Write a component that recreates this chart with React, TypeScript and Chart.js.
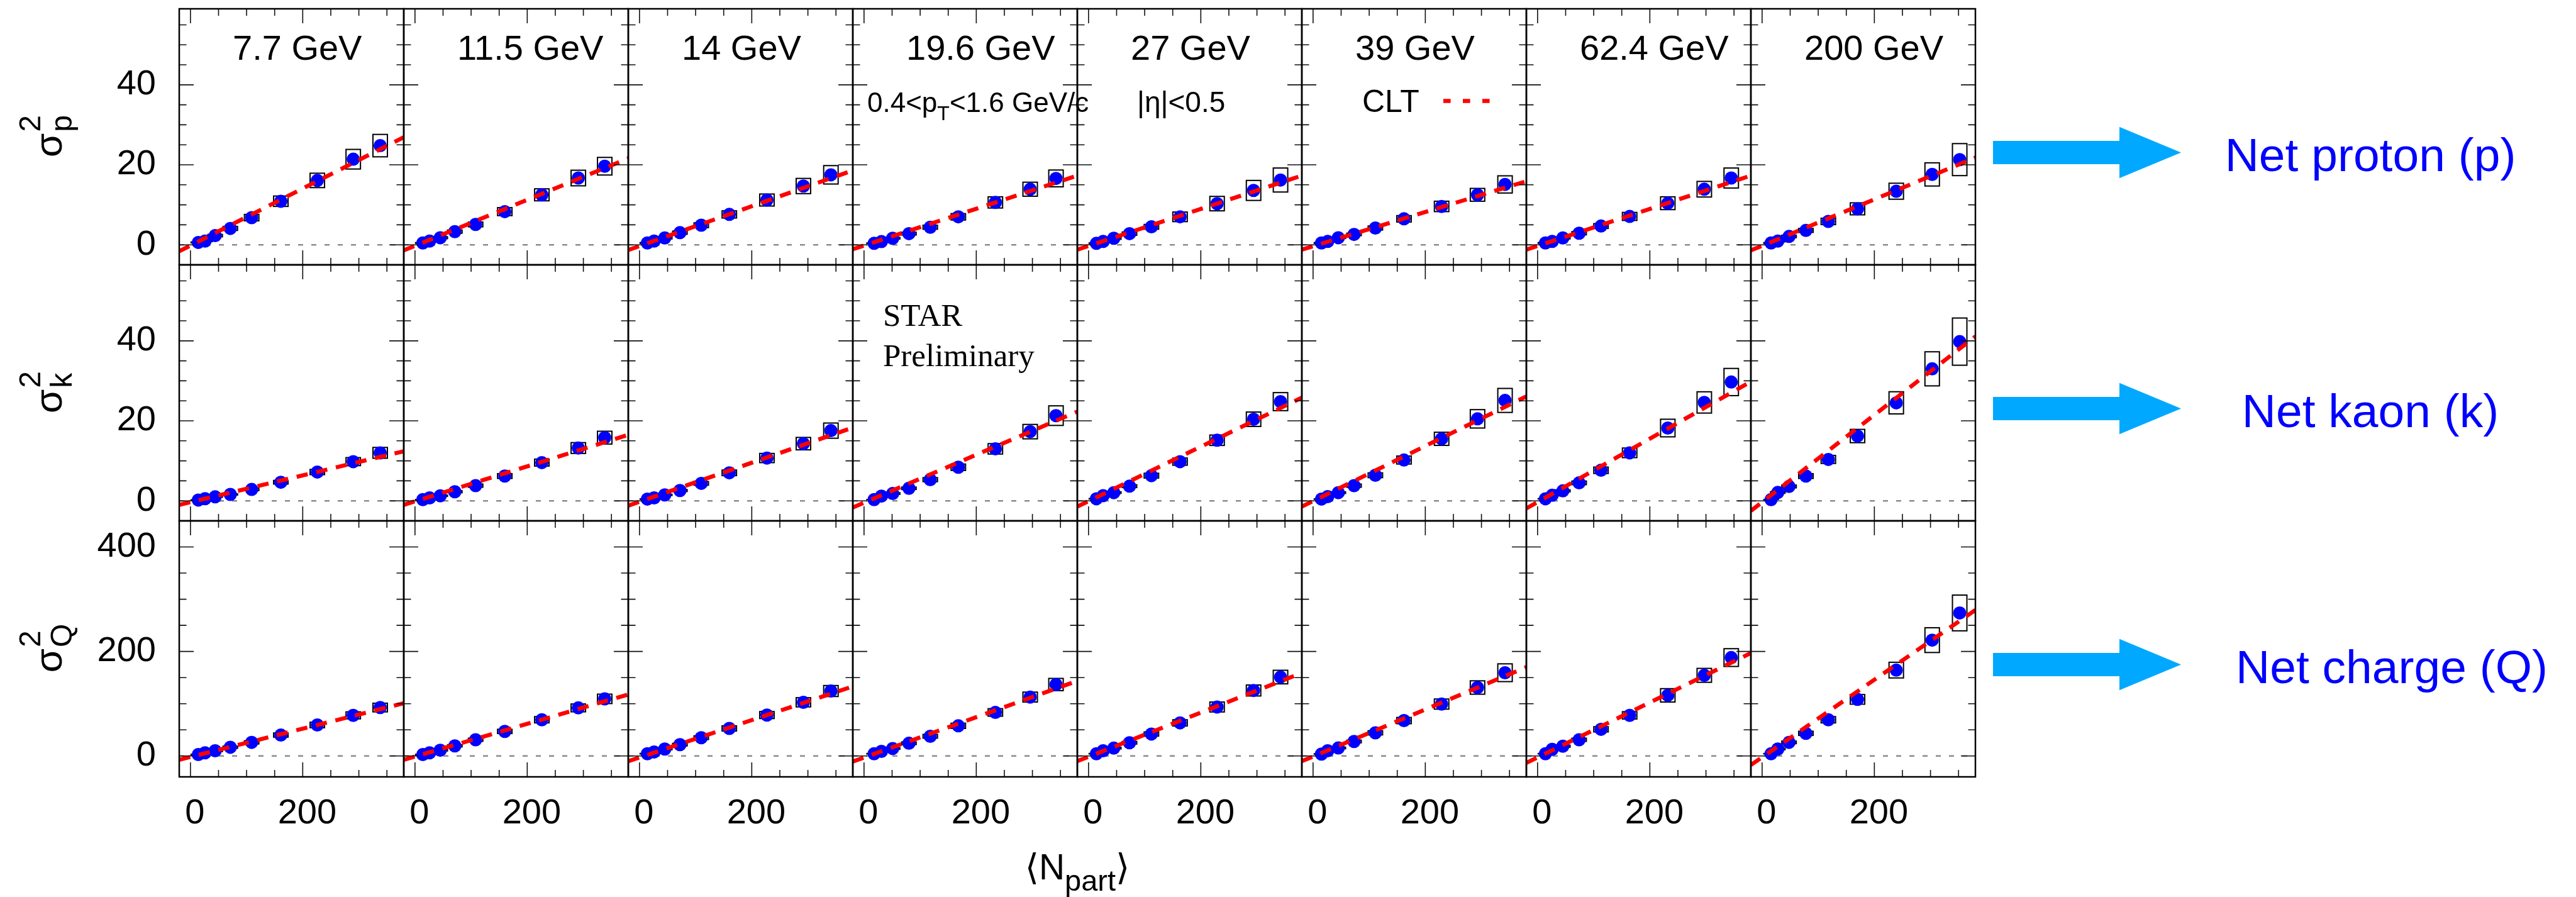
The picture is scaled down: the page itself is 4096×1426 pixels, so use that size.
import React, { useEffect, useRef } from 'react';
import { Chart, registerables } from 'chart.js';

Chart.register(...registerables);

const SANS = "'Liberation Sans', Arial, Helvetica, sans-serif";
const SERIF = "'Liberation Serif', 'Times New Roman', serif";
const BRACKET = "'DejaVu Sans', 'Liberation Sans', sans-serif";

// ---- data ----
const energies = ['7.7 GeV', '11.5 GeV', '14 GeV', '19.6 GeV', '27 GeV', '39 GeV', '62.4 GeV', '200 GeV'];

// <Npart> per centrality, per energy
const npart = [
  [14, 26, 44, 71, 109, 161, 226, 290, 338],
  [14, 26, 45, 71, 108, 160, 226, 291, 338],
  [14, 26, 45, 72, 110, 160, 227, 292, 341],
  [18, 31, 51, 80, 118, 168, 234, 296, 342],
  [14, 26, 45, 73, 112, 163, 229, 294, 342],
  [15, 26, 45, 73, 111, 162, 229, 293, 342],
  [14, 26, 45, 74, 113, 164, 232, 297, 345],
  [16, 28, 48, 78, 118, 170, 239, 303, 352],
];

// net-proton variance
const protonVar = [
  [0.6, 0.94, 2.3, 4.1, 6.8, 10.9, 16.1, 21.4, 24.8],
  [0.47, 0.94, 1.78, 3.3, 5.1, 8.3, 12.5, 16.7, 19.65],
  [0.47, 0.94, 1.73, 3.04, 4.9, 7.6, 11.2, 14.7, 17.5],
  [0.37, 0.8, 1.64, 2.8, 4.4, 7.0, 10.6, 13.9, 16.6],
  [0.37, 0.84, 1.64, 2.8, 4.5, 7.0, 10.3, 13.6, 16.2],
  [0.47, 0.84, 1.78, 2.6, 4.2, 6.5, 9.6, 12.5, 15.1],
  [0.47, 0.84, 1.73, 2.9, 4.7, 7.1, 10.4, 13.9, 16.7],
  [0.47, 0.94, 2.1, 3.6, 5.85, 9.0, 13.4, 17.6, 21.3],
];
const protonSys = [
  [0.1, 0.15, 0.3, 0.5, 0.8, 1.3, 1.8, 2.45, 2.8],
  [0.1, 0.15, 0.25, 0.4, 0.6, 1.0, 1.5, 1.95, 2.2],
  [0.1, 0.15, 0.25, 0.4, 0.6, 0.9, 1.5, 1.9, 2.3],
  [0.1, 0.15, 0.2, 0.35, 0.5, 0.8, 1.4, 1.75, 2.1],
  [0.1, 0.15, 0.25, 0.4, 0.6, 1.2, 1.8, 2.5, 3.0],
  [0.1, 0.15, 0.2, 0.3, 0.5, 0.8, 1.3, 1.6, 2.15],
  [0.1, 0.15, 0.25, 0.4, 0.6, 1.0, 1.6, 1.95, 2.5],
  [0.1, 0.2, 0.3, 0.5, 0.8, 1.5, 2.0, 2.9, 4.0],
];

// net-kaon variance
const kaonVar = [
  [0.2, 0.55, 1.0, 1.6, 2.85, 4.65, 7.2, 9.8, 12.0],
  [0.3, 0.74, 1.27, 2.27, 3.8, 6.2, 9.56, 13.2, 15.8],
  [0.44, 0.74, 1.48, 2.58, 4.37, 7.0, 10.7, 14.3, 17.55],
  [0.3, 1.18, 1.83, 3.14, 5.3, 8.4, 13.0, 17.3, 21.3],
  [0.52, 1.3, 2.05, 3.67, 6.3, 9.8, 15.15, 20.4, 24.8],
  [0.44, 1.05, 2.05, 3.8, 6.4, 10.2, 15.5, 20.5, 25.1],
  [0.52, 1.4, 2.5, 4.5, 7.64, 12.0, 18.2, 24.6, 29.7],
  [0.3, 2.1, 3.6, 6.2, 10.35, 16.2, 24.5, 33.0, 39.8],
];
const kaonSys = [
  [0.05, 0.08, 0.1, 0.15, 0.3, 0.45, 0.65, 1.0, 1.35],
  [0.05, 0.1, 0.15, 0.25, 0.4, 0.6, 0.87, 1.35, 1.6],
  [0.05, 0.1, 0.15, 0.25, 0.45, 0.7, 1.15, 1.55, 1.9],
  [0.05, 0.1, 0.2, 0.3, 0.5, 0.8, 1.3, 1.8, 2.45],
  [0.05, 0.1, 0.2, 0.35, 0.6, 0.9, 1.3, 1.8, 2.25],
  [0.05, 0.1, 0.2, 0.4, 0.6, 1.0, 1.64, 2.3, 3.0],
  [0.05, 0.15, 0.25, 0.45, 0.8, 1.2, 2.2, 2.66, 3.4],
  [0.05, 0.2, 0.35, 0.6, 1.0, 1.66, 2.77, 4.26, 5.9],
];

// net-charge variance
const chargeVar = [
  [2.7, 6, 10, 16.7, 26, 40, 59.3, 77.7, 92.7],
  [2.7, 6, 11, 19.3, 31, 47, 69.3, 92, 109.3],
  [4.3, 7.7, 13.3, 21.7, 35, 52.7, 78.3, 102.7, 124.3],
  [4.3, 8.7, 14.3, 24.3, 37.7, 57.7, 83.3, 112.7, 136.7],
  [4.3, 10, 15, 25.3, 42, 63.3, 93.7, 125.3, 151],
  [3.7, 10, 15.3, 27.7, 44.3, 67.7, 99.3, 131, 159.3],
  [4.3, 12.7, 18.7, 31, 51, 77.7, 116, 154.3, 188.3],
  [4.3, 13.3, 26, 43.3, 69.3, 108.3, 164.3, 221.7, 273.7],
];
const chargeSys = [
  [0.5, 1, 1.5, 2, 3, 4, 5.3, 6.7, 8.3],
  [0.5, 1, 1.5, 2, 3, 4, 6, 7.5, 9],
  [0.5, 1, 1.5, 2.5, 3.5, 5, 6.7, 8.8, 10.5],
  [0.5, 1, 1.5, 2.5, 3.5, 5, 7.2, 9.5, 11.7],
  [0.5, 1, 1.5, 2.5, 4, 6, 9.5, 10.5, 13],
  [0.5, 1, 1.5, 2.5, 4, 6, 9.7, 12.8, 17],
  [0.5, 1, 2, 3, 5, 7, 12.8, 13.3, 17],
  [0.5, 1.5, 2.5, 4, 6, 9.2, 15, 23.7, 34.2],
];

// CLT expectation: value at the two ends of the Npart range
const cltX = [-20, 380];
const cltProton = [[-1.6, 26.9], [-1.4, 21.6], [-1.3, 18.6], [-1.1, 17.3], [-1.2, 17.3], [-1.2, 15.9], [-1.2, 17.3], [-1.4, 21.8]];
const cltKaon = [[-1.0, 12.4], [-1.0, 16.5], [-1.2, 18.3], [-1.66, 22.3], [-1.44, 25.8], [-1.44, 26.1], [-1.9, 29.8], [-2.5, 41.1]];
const cltCharge = [[-7.3, 101], [-7.3, 117.7], [-10, 133], [-10.7, 143.7], [-10, 159], [-10, 170], [-13.3, 197], [-17.3, 279.3]];

// axes
const xRange = [-20, 380];
const xMajorTicks = [0, 200];
const xMinorTicks = [50, 100, 150, 250, 300, 350];
const yMin = [-5, -5, -40];
const yMax = [59, 59, 450];
const yMajorTicks = [[0, 20, 40], [0, 20, 40], [0, 200, 400]];
const yMinorTicks = [
  [5, 10, 15, 25, 30, 35, 45, 50, 55],
  [5, 10, 15, 25, 30, 35, 45, 50, 55],
  [50, 100, 150, 250, 300, 350],
];
const rowSubscripts = ['p', 'k', 'Q'];
const rightLabels = ['Net proton (p)', 'Net kaon (k)', 'Net charge (Q)'];

const rowValues = [protonVar, kaonVar, chargeVar];
const rowSys = [protonSys, kaonSys, chargeSys];
const rowClt = [cltProton, cltKaon, cltCharge];

// ---- drawing helpers ----
const decorPlugin = {
  id: 'decor',
  beforeDraw(chart: any) {
    const ctx = chart.ctx;
    ctx.save();
    ctx.fillStyle = '#ffffff';
    ctx.fillRect(0, 0, chart.width, chart.height);
    ctx.restore();
  },
  beforeDatasetsDraw(chart: any) {
    const ctx = chart.ctx;
    ctx.save();
    ctx.strokeStyle = '#000000';
    ctx.lineWidth = 2;
    rowValues.forEach((vals, r) => {
      const ys = chart.scales['y' + r];
      energies.forEach((_, c) => {
        const xs = chart.scales['x' + c];
        ctx.save();
        ctx.beginPath();
        ctx.rect(xs.left, ys.top, xs.right - xs.left, ys.bottom - ys.top);
        ctx.clip();
        npart[c].forEach((n, i) => {
          const px = xs.getPixelForValue(n);
          const yTop = ys.getPixelForValue(vals[c][i] + rowSys[r][c][i]);
          const yBot = ys.getPixelForValue(vals[c][i] - rowSys[r][c][i]);
          ctx.strokeRect(px - 11.5, yTop, 23, yBot - yTop);
        });
        ctx.restore();
      });
    });
    ctx.restore();
  },
  afterDatasetsDraw(chart: any) {
    const ctx = chart.ctx;
    ctx.save();
    rowValues.forEach((_, r) => {
      const ys = chart.scales['y' + r];
      energies.forEach((__, c) => {
        const xs = chart.scales['x' + c];
        const L = xs.left, R = xs.right, T = ys.top, B = ys.bottom;
        ctx.strokeStyle = '#111111';
        ctx.lineWidth = 1.6;
        ctx.beginPath();
        const xt = (v: number, len: number) => {
          const px = xs.getPixelForValue(v);
          ctx.moveTo(px, B); ctx.lineTo(px, B - len);
          ctx.moveTo(px, T); ctx.lineTo(px, T + len);
        };
        xMajorTicks.forEach(v => xt(v, 23));
        xMinorTicks.forEach(v => xt(v, 11));
        const yt = (v: number, len: number) => {
          const py = ys.getPixelForValue(v);
          ctx.moveTo(L, py); ctx.lineTo(L + len, py);
          ctx.moveTo(R, py); ctx.lineTo(R - len, py);
        };
        yMajorTicks[r].forEach(v => yt(v, 23));
        yMinorTicks[r].forEach(v => yt(v, 11.5));
        ctx.stroke();
        ctx.strokeStyle = '#000000';
        ctx.lineWidth = 2.5;
        ctx.strokeRect(L, T, R - L, B - T);
      });
    });
    ctx.restore();
  },
  afterDraw(chart: any) {
    const ctx = chart.ctx;
    const ca = chart.chartArea;
    const xs = (c: number) => chart.scales['x' + c];
    const ys = (r: number) => chart.scales['y' + r];
    ctx.save();
    ctx.fillStyle = '#000000';
    ctx.textBaseline = 'alphabetic';
    ctx.textAlign = 'left';

    // energy labels
    ctx.font = `56px ${SANS}`;
    energies.forEach((e, c) => ctx.fillText(e, xs(c).left + 85, ys(0).top + 81));

    // kinematic cuts
    const by = ys(0).top + 164;
    let x = xs(3).left + 23;
    ctx.font = `44px ${SANS}`;
    ctx.fillText('0.4<p', x, by);
    x += ctx.measureText('0.4<p').width;
    ctx.font = `32px ${SANS}`;
    ctx.fillText('T', x, by + 13);
    x += ctx.measureText('T').width;
    ctx.font = `44px ${SANS}`;
    ctx.fillText('<1.6 GeV/c', x, by);

    ctx.font = `46px ${SANS}`;
    ctx.fillText('|η|<0.5', xs(4).left + 95, by);

    // legend
    ctx.font = `50px ${SANS}`;
    ctx.fillText('CLT', xs(5).left + 96, by);
    ctx.strokeStyle = '#ff0000';
    ctx.lineWidth = 6.5;
    ctx.setLineDash([11.6, 19.4]);
    ctx.beginPath();
    ctx.moveTo(xs(5).left + 225, ys(0).top + 146.6);
    ctx.lineTo(xs(5).left + 299, ys(0).top + 146.6);
    ctx.stroke();
    ctx.setLineDash([]);

    // STAR Preliminary
    ctx.font = `51px ${SERIF}`;
    ctx.fillText('STAR', xs(3).left + 48, ys(1).top + 96.5);
    ctx.fillText('Preliminary', xs(3).left + 48, ys(1).top + 160.5);

    // y titles (rotated)
    rowSubscripts.forEach((sub, r) => {
      const cy = (ys(r).top + ys(r).bottom) / 2;
      ctx.save();
      ctx.translate(98, cy);
      ctx.rotate(-Math.PI / 2);
      ctx.font = `62px ${SANS}`;
      const wS = ctx.measureText('σ').width;
      ctx.font = `48px ${SANS}`;
      const w2 = Math.max(ctx.measureText('2').width, ctx.measureText(sub).width);
      const start = -(wS + w2) / 2;
      ctx.font = `62px ${SANS}`;
      ctx.fillText('σ', start, 0);
      ctx.font = `48px ${SANS}`;
      ctx.fillText('2', start + wS + 2, -34);
      ctx.fillText(sub, start + wS + 2, 16);
      ctx.restore();
    });

    // x title <N_part>
    {
      const base = ca.bottom + 163;
      ctx.font = `57px ${BRACKET}`;
      const wl = ctx.measureText('⟨').width;
      const wr = ctx.measureText('⟩').width;
      ctx.font = `57px ${SANS}`;
      const wN = ctx.measureText('N').width;
      ctx.font = `47px ${SANS}`;
      const wp = ctx.measureText('part').width;
      let px = (ca.left + ca.right) / 2 - (wl + wN + wp + wr) / 2;
      ctx.font = `57px ${BRACKET}`;
      ctx.fillText('⟨', px, base);
      px += wl;
      ctx.font = `57px ${SANS}`;
      ctx.fillText('N', px, base);
      px += wN;
      ctx.font = `47px ${SANS}`;
      ctx.fillText('part', px, base + 18);
      px += wp;
      ctx.font = `57px ${BRACKET}`;
      ctx.fillText('⟩', px, base);
    }

    // arrows and labels on the right
    rightLabels.forEach((label, r) => {
      const cy = (ys(r).top + ys(r).bottom) / 2;
      const ay = cy + 25;
      const x0 = ca.right + 28, xh = ca.right + 229, xt = ca.right + 327;
      ctx.fillStyle = '#00a8ff';
      ctx.beginPath();
      ctx.moveTo(x0, ay - 18.5);
      ctx.lineTo(xh, ay - 18.5);
      ctx.lineTo(xh, ay - 40.75);
      ctx.lineTo(xt, ay);
      ctx.lineTo(xh, ay + 40.75);
      ctx.lineTo(xh, ay + 18.5);
      ctx.lineTo(x0, ay + 18.5);
      ctx.closePath();
      ctx.fill();
      ctx.fillStyle = '#0000ff';
      ctx.font = `75px ${SANS}`;
      ctx.textAlign = 'center';
      const lx = r === 2 ? ca.right + 662 : ca.right + 628;
      ctx.fillText(label, lx, cy + 54);
      ctx.textAlign = 'left';
    });

    ctx.restore();
  },
};

export default function App() {
  const ref = useRef<HTMLCanvasElement>(null);

  useEffect(() => {
    const canvas = ref.current;
    if (!canvas) return;

    const datasets: any[] = [];
    rowValues.forEach((vals, r) => {
      energies.forEach((_, c) => {
        const xAxisID = 'x' + c;
        const yAxisID = 'y' + r;
        datasets.push({
          type: 'line',
          data: [{ x: xRange[0], y: 0 }, { x: xRange[1], y: 0 }],
          xAxisID, yAxisID,
          borderColor: '#8c8c8c', borderWidth: 2.5, borderDash: [8, 13],
          pointRadius: 0, fill: false, order: 3,
        });
        datasets.push({
          type: 'scatter',
          data: npart[c].map((n, i) => ({ x: n, y: vals[c][i] })),
          xAxisID, yAxisID,
          backgroundColor: '#0000ff', borderColor: '#0000ff', borderWidth: 0,
          pointRadius: 10.5, pointHoverRadius: 10.5, order: 2,
        });
        datasets.push({
          type: 'line',
          data: [{ x: cltX[0], y: rowClt[r][c][0] }, { x: cltX[1], y: rowClt[r][c][1] }],
          xAxisID, yAxisID,
          borderColor: '#ff0000', borderWidth: 6.5, borderDash: [18, 14], borderCapStyle: 'butt',
          pointRadius: 0, fill: false, order: 1,
        });
      });
    });

    const scales: any = {};
    energies.forEach((_, c) => {
      scales['x' + c] = {
        type: 'linear', position: 'bottom', stack: 'cols', stackWeight: 1, weight: c,
        min: xRange[0], max: xRange[1], bounds: 'data',
        grid: { display: false, drawTicks: false },
        border: { display: false },
        afterBuildTicks: (s: any) => { s.ticks = xMajorTicks.map(v => ({ value: v })); },
        ticks: {
          font: { family: SANS, size: 56 }, color: '#000000', padding: 25, labelOffset: 7,
          maxRotation: 0, minRotation: 0, autoSkip: false,
          callback: (v: any) => String(v),
        },
        afterFit: (s: any) => { s.height = 191; s.paddingLeft = 0; s.paddingRight = 0; },
      };
    });
    rowValues.forEach((_, r) => {
      scales['y' + r] = {
        type: 'linear', position: 'left', stack: 'rows', stackWeight: 1, weight: 3 - r,
        min: yMin[r], max: yMax[r], bounds: 'data',
        grid: { display: false, drawTicks: false },
        border: { display: false },
        afterBuildTicks: (s: any) => { s.ticks = yMajorTicks[r].map(v => ({ value: v })); },
        ticks: {
          font: { family: SANS, size: 56 }, color: '#000000', padding: 37,
          autoSkip: false, callback: (v: any) => String(v),
        },
        afterFit: (s: any) => { s.width = 285; s.paddingTop = 0; s.paddingBottom = 0; },
      };
    });

    const chart = new Chart(canvas, {
      type: 'scatter',
      data: { datasets },
      options: {
        responsive: false,
        devicePixelRatio: 1,
        animation: false,
        layout: { padding: { left: 0, top: 14, right: 955, bottom: 0 } },
        scales,
        plugins: { legend: { display: false }, tooltip: { enabled: false }, title: { display: false } },
        events: [],
      } as any,
      plugins: [decorPlugin as any],
    });

    return () => { chart.destroy(); };
  }, []);

  return (
    <div style={{ position: 'fixed', left: 0, top: 0, width: 4096, height: 1426, background: '#fff' }}>
      <canvas ref={ref} width={4096} height={1426} style={{ display: 'block', width: 4096, height: 1426 }} />
    </div>
  );
}
